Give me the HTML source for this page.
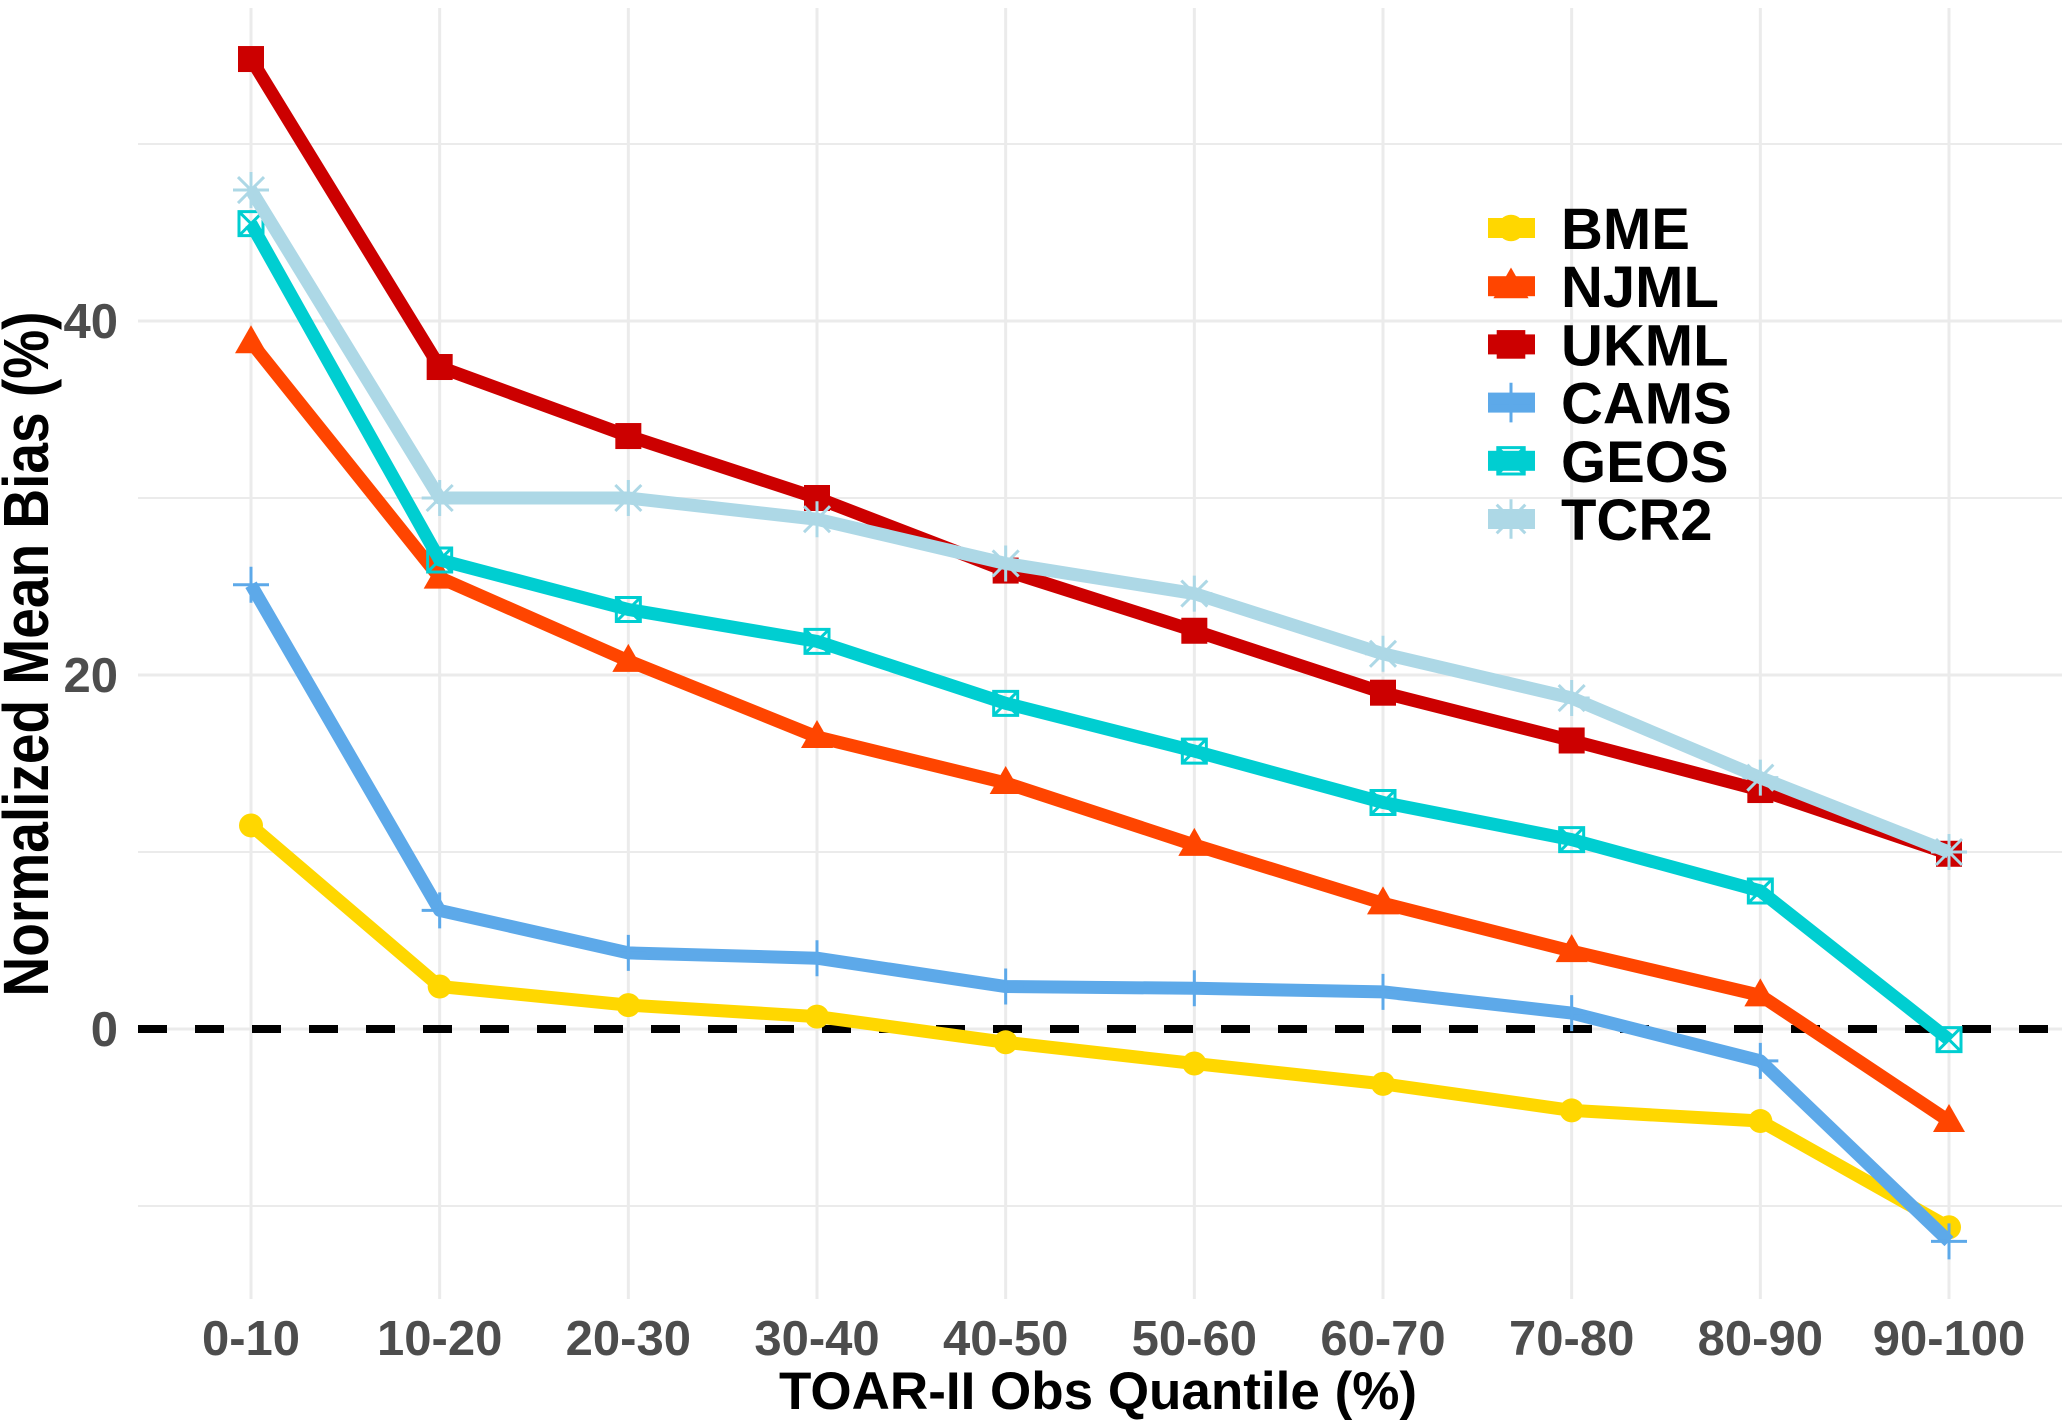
<!DOCTYPE html>
<html><head><meta charset="utf-8">
<style>
html,body{margin:0;padding:0;background:#fff;}
svg{display:block;font-family:"Liberation Sans",Arial,sans-serif;}
</style></head>
<body>
<svg id="chart" width="2067" height="1421" viewBox="0 0 2067 1421" xmlns="http://www.w3.org/2000/svg">
<rect width="2067" height="1421" fill="#fff"/>
<g id="grid"></g>
<g id="axes"></g>
<g id="series"></g>
<g id="legend"></g>
<text transform="translate(48,654) rotate(-90) scale(0.86,1)" text-anchor="middle" font-size="64" font-weight="bold" fill="#000">Normalized Mean Bias (%)</text>
<text x="1098" y="1409" text-anchor="middle" font-size="53" font-weight="bold" fill="#000">TOAR-II Obs Quantile (%)</text>
</svg>
<script>
const categories = ["0-10","10-20","20-30","30-40","40-50","50-60","60-70","70-80","80-90","90-100"];
const yTicks = [0,20,40];
const yMinor = [-10,10,30,50];
const seriesNames = ["BME","NJML","UKML","CAMS","GEOS","TCR2"];
const bme  = [11.5,2.4,1.35,0.7,-0.75,-1.95,-3.1,-4.6,-5.2,-11.2];
const njml = [38.8,25.5,20.8,16.5,13.9,10.4,7.1,4.4,1.9,-5.2];
const ukml = [54.8,37.4,33.5,30.0,25.9,22.5,19.0,16.3,13.5,9.9];
const cams = [25.1,6.7,4.3,4.0,2.4,2.3,2.1,0.9,-1.8,-12.0];
const geos = [45.5,26.5,23.7,21.9,18.4,15.7,12.8,10.7,7.8,-0.6];
const tcr2 = [47.4,30.0,30.0,28.8,26.3,24.6,21.2,18.7,14.2,10.0];

const NS="http://www.w3.org/2000/svg";
const PL=138, PR=2062, PT=8, PB=1299;
function xs(i){ return 251 + i*(1949-251)/(categories.length-1); }
function ys(v){ return 1029 - v*17.7; }
function mk(tag, attrs, parent){ const e=document.createElementNS(NS,tag); for(const k in attrs) e.setAttribute(k,attrs[k]); parent.appendChild(e); return e; }

const grid=document.getElementById('grid');
yMinor.forEach(v=>{ const l=mk('line',{x1:PL,x2:PR,y1:ys(v),y2:ys(v),stroke:'#ebebeb','stroke-width':2},grid);

 });
yTicks.forEach(v=>{ const l=mk('line',{x1:PL,x2:PR,y1:ys(v),y2:ys(v),stroke:'#ebebeb','stroke-width':3},grid);

 });
categories.forEach((c,i)=>{ const l=mk('line',{x1:xs(i),x2:xs(i),y1:PT,y2:PB,stroke:'#ebebeb','stroke-width':3},grid);

 });

const axes=document.getElementById('axes');
yTicks.forEach(v=>{ const t=mk('text',{x:118,y:ys(v)+17,'text-anchor':'end','font-size':49,'font-weight':'bold',fill:'#4d4d4d'},axes); t.textContent=v;

 });
categories.forEach((c,i)=>{ const t=mk('text',{x:xs(i),y:1355,'text-anchor':'middle','font-size':49,'font-weight':'bold',fill:'#4d4d4d'},axes); t.textContent=c;

 });
const zl=mk('line',{x1:PL,x2:PR,y1:ys(0),y2:ys(0),stroke:'#000','stroke-width':8,'stroke-dasharray':'29 28'},axes);



const colors={BME:'#FFD700',NJML:'#FF4500',UKML:'#CC0000',CAMS:'#5DA9E9',GEOS:'#00CED1',TCR2:'#ADD8E6'};
const dataMap={BME:bme,NJML:njml,UKML:ukml,CAMS:cams,GEOS:geos,TCR2:tcr2};

function marker(name,x,y,g,s){
  const c=colors[name]; s=s||1;
  if(name==='BME') return mk('circle',{cx:x,cy:y,r:12*s,fill:c},g);
  if(name==='NJML') return mk('polygon',{points:`${x},${y-17*s} ${x+16*s},${y+11*s} ${x-16*s},${y+11*s}`,fill:c},g);
  if(name==='UKML') return mk('rect',{x:x-13*s,y:y-13*s,width:26*s,height:26*s,fill:c},g);
  if(name==='CAMS'){ const p=mk('path',{d:`M${x-18*s},${y}H${x+18*s}M${x},${y-18*s}V${y+18*s}`,stroke:c,'stroke-width':3,fill:'none'},g); return p; }
  if(name==='GEOS'){ const h=12*s; return mk('path',{d:`M${x-h},${y-h}H${x+h}V${y+h}H${x-h}ZM${x-h},${y-h}L${x+h},${y+h}M${x+h},${y-h}L${x-h},${y+h}`,stroke:c,'stroke-width':3,fill:'none'},g); }
  if(name==='TCR2'){ const h=18*s,d=13*s; return mk('path',{d:`M${x-h},${y}H${x+h}M${x},${y-h}V${y+h}M${x-d},${y-d}L${x+d},${y+d}M${x+d},${y-d}L${x-d},${y+d}`,stroke:c,'stroke-width':3,fill:'none'},g); }
}

const series=document.getElementById('series');
seriesNames.forEach(name=>{
  const vals=dataMap[name];
  const g=mk('g',{},series);
  
  
  const pts=vals.map((v,i)=>xs(i)+','+ys(v)).join(' ');
  const pl=mk('polyline',{points:pts,fill:'none',stroke:colors[name],'stroke-width':13,'stroke-linejoin':'round'},g);
  
  
  vals.forEach((v,i)=>{ const m=marker(name,xs(i),ys(v),g);
    
     });
});

const legend=document.getElementById('legend');
seriesNames.forEach((name,k)=>{
  const y=228+k*58.2;
  const g=mk('g',{},legend);
  
  
  mk('rect',{x:1488,y:y-10,width:47,height:20,fill:colors[name]},g);
  marker(name,1511,y,g,1.1);
  const t=mk('text',{x:1561,y:y+21,'font-size':58,'font-weight':'bold',fill:'#000'},g);
  t.textContent=name;
  
  
});
</script>
</body></html>
